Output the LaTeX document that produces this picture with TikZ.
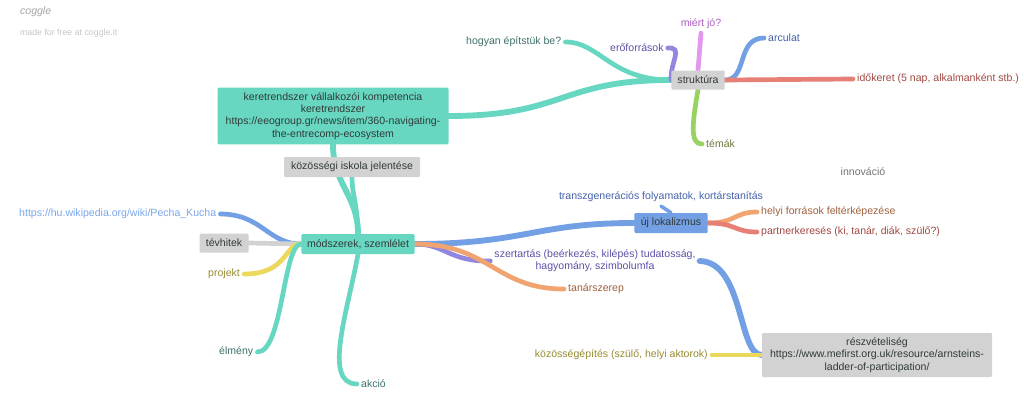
\documentclass[tikz,border=0pt]{standalone}
\usepackage{fontspec}
\setmainfont{Liberation Sans}
\usepackage{xcolor}
\usetikzlibrary{backgrounds}

\definecolor{tealc}{RGB}{104,215,194}
\definecolor{grayc}{RGB}{210,210,210}
\definecolor{bluec}{RGB}{115,160,228}
\definecolor{orangec}{RGB}{240,165,112}
\definecolor{redc}{RGB}{230,128,118}
\definecolor{purplec}{RGB}{146,135,222}
\definecolor{pinkc}{RGB}{226,152,236}
\definecolor{greenc}{RGB}{152,210,98}
\definecolor{yellowc}{RGB}{236,216,92}
\definecolor{boxtxt}{RGB}{48,58,56}
\definecolor{tealtxt}{RGB}{62,112,106}
\definecolor{purptxt}{RGB}{92,82,168}
\definecolor{pinktxt}{RGB}{172,92,192}
\definecolor{bluetxt}{RGB}{68,98,170}
\definecolor{redtxt}{RGB}{160,72,66}
\definecolor{olivetxt}{RGB}{104,120,62}
\definecolor{yelltxt}{RGB}{150,140,52}
\definecolor{linktxt}{RGB}{122,166,236}
\definecolor{browntxt}{RGB}{160,96,62}

\begin{document}
\begin{tikzpicture}[x=0.3mm, y=-0.3mm,
    every node/.style={font=\fontsize{9}{10.5}\selectfont},
    box/.style={rounded corners=1pt, inner sep=0pt, align=center, text=boxtxt},
    lbl/.style={anchor=west, inner xsep=1.2mm},
    link/.style={line width=4pt, line cap=round}]
  \useasboundingbox (0,0) rectangle (1024,412);

  \node[anchor=west, text=gray!70, font=\fontsize{9}{10}\selectfont\itshape] (logo) at (16,12) {coggle};
  \node[anchor=west, text=gray!45, font=\fontsize{7.5}{9}\selectfont] (made) at (16,33) {made for free at coggle.it};

  % main boxes
  \node[box, fill=tealc, minimum width=69.3mm, minimum height=17mm] (kere) at (333,116) {keretrendszer vállalkozói kompetencia\\keretrendszer\\https://eeogroup.gr/news/item/360-navigating-\\the-entrecomp-ecosystem};
  \node[box, fill=grayc, minimum width=40.8mm, minimum height=6mm] (kozos) at (352,167) {közösségi iskola jelentése};
  \node[box, fill=tealc, minimum width=34mm, minimum height=6mm] (modsz) at (358,244) {módszerek, szemlélet};
  \node[box, fill=grayc, minimum width=14.7mm, minimum height=5.7mm] (tevh) at (224,243) {tévhitek};
  \node[box, fill=grayc, minimum width=16mm, minimum height=5.7mm] (struk) at (698,80) {struktúra};
  \node[box, fill=bluec, minimum width=22mm, minimum height=6mm] (ujlok) at (671,223) {új lokalizmus};
  \node[box, fill=grayc, minimum width=69mm, minimum height=13.2mm] (reszv) at (877,355) {részvételiség\\https://www.mefirst.org.uk/resource/arnsteins-\\ladder-of-participation/};

  % leaves
  \node[lbl, text=tealtxt] (hogyan) at (462,42) {hogyan építstük be?};
  \node[lbl, text=purptxt] (eroforr) at (606,48) {erőforrások};
  \node[text=pinktxt] (mierj) at (701,24) {miért jó?};
  \node[lbl, text=bluetxt] (arculat) at (764,38) {arculat};
  \node[lbl, text=redtxt] (idok) at (853,79) {időkeret (5 nap, alkalmanként stb.)};
  \node[lbl, text=olivetxt] (temak) at (702,144) {témák};
  \node[text=gray!90!black] (innov) at (863,172) {innováció};
  \node[lbl, text=linktxt] (wiki) at (15,214) {https://hu.wikipedia.org/wiki/Pecha\_Kucha};
  \node[lbl, text=yelltxt] (projekt) at (204,274) {projekt};
  \node[lbl, text=tealtxt] (elmeny) at (215,352) {élmény};
  \node[lbl, text=tealtxt] (akcio) at (357,384) {akció};
  \node[text=bluetxt] (transz) at (661,197) {transzgenerációs folyamatok, kortárstanítás};
  \node[align=center, text=purptxt] (szert) at (595,261) {szertartás (beérkezés, kilépés) tudatosság,\\hagyomány, szimbolumfa};
  \node[lbl, text=browntxt] (tanar) at (564,289) {tanárszerep};
  \node[lbl, text=browntxt] (helyi) at (757,212) {helyi források feltérképezése};
  \node[lbl, text=redtxt] (partner) at (757,232) {partnerkeresés (ki, tanár, diák, szülő?)};
  \node[lbl, anchor=east, text=yelltxt] (kozep) at (712,355) {közösségépítés (szülő, helyi aktorok)};

  \begin{scope}[on background layer]
    \fill[white] (0,0) rectangle (1024,412);
    % upper branch
    \draw[link, tealc, line width=5pt] (kere.east) .. controls (565,116) and (560,80) .. (struk.west);
    \draw[link, tealc] (struk.west) .. controls (610,80) and (600,42) .. (hogyan.east);
    \draw[link, purplec] (struk.west) .. controls (670,62) and (684,47) .. (eroforr.east);
    \draw[link, pinkc] (struk.north) -- (mierj.south);
    \draw[link, bluec] (struk.east) .. controls (748,80) and (736,38) .. (arculat.west);
    \draw[link, redc] (struk.east) -- (idok.west);
    \draw[link, greenc] (struk.south) .. controls (692,125) and (690,144) .. (temak.west);
    % middle
    \draw[link, tealc, line width=5pt] (modsz.north) .. controls (358,195) and (333,185) .. (kere.south);
    \draw[link, tealc] (modsz.north) .. controls (357,200) and (352,195) .. (kozos.south);
    \draw[link, bluec] (modsz.west) .. controls (268,244) and (262,214) .. (wiki.east);
    \draw[link, grayc] (modsz.west) -- (tevh.east);
    \draw[link, yellowc] (modsz.west) .. controls (284,244) and (288,274) .. (projekt.east);
    \draw[link, tealc] (modsz.west) .. controls (283,244) and (283,352) .. (elmeny.east);
    \draw[link, tealc] (modsz.south) .. controls (348,310) and (322,384) .. (akcio.west);
    \draw[link, bluec, line width=5pt] (modsz.east) .. controls (525,244) and (535,223) .. (ujlok.west);
    \draw[link, purplec] (modsz.east) .. controls (445,244) and (450,262) .. (szert.west);
    \draw[link, orangec] (modsz.east) .. controls (490,244) and (495,289) .. (tanar.west);
    \draw[link, bluec, line width=3pt] (ujlok.north) -- (transz.south);
    \draw[link, orangec] (ujlok.east) .. controls (736,223) and (734,212) .. (helyi.west);
    \draw[link, redc] (ujlok.east) .. controls (736,223) and (734,232) .. (partner.west);
    % lower right
    \draw[link, bluec, line width=5pt] (reszv.west) .. controls (738,355) and (744,262) .. (szert.east);
    \draw[link, yellowc] (reszv.west) -- (kozep.east);
  \end{scope}
\end{tikzpicture}
\end{document}
